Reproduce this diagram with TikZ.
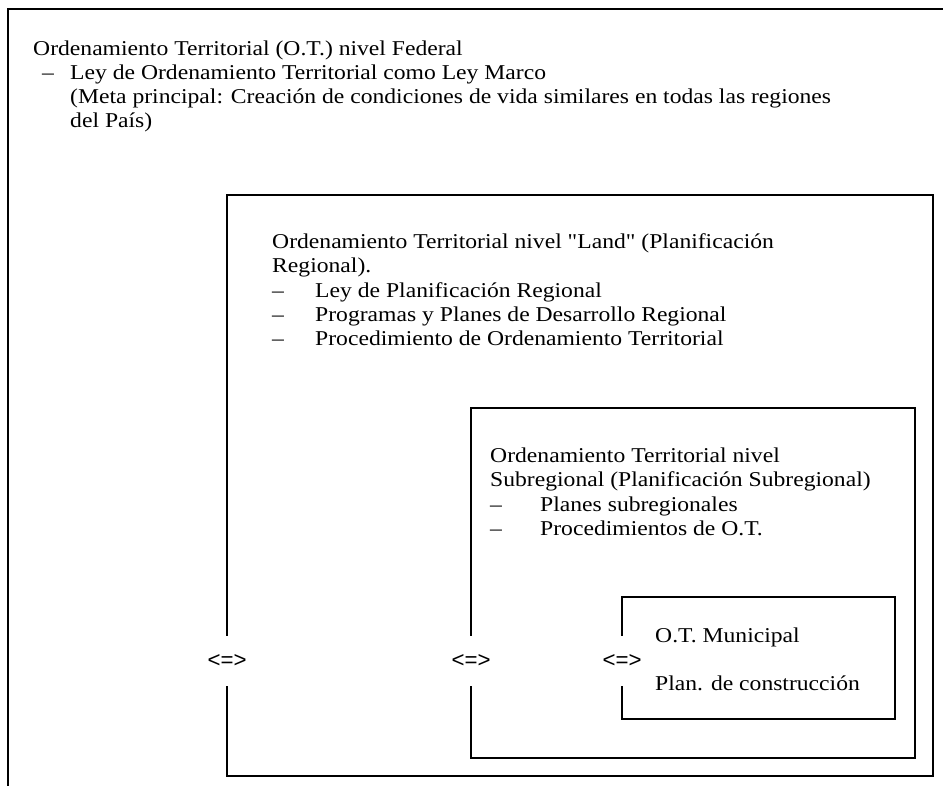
\documentclass[tikz,border=0pt]{standalone}
\usepackage{fontspec}
\setmainfont{Liberation Serif}[Ligatures=TeXOff, FakeStretch=1.12]
\newfontfamily\eqfont{Liberation Sans}
\begin{document}
\begin{tikzpicture}[x=0.03cm, y=-0.03cm,
    txt/.style={anchor=base west, inner sep=0pt,
        font=\fontsize{18}{21}\selectfont},
    eqmark/.style={inner sep=0pt, minimum height=1.5cm,
        font=\eqfont\fontsize{19}{21}\selectfont},
    frame/.style={line width=1.5pt}
]

    \useasboundingbox (0,0) rectangle (943,786);

    % nivel Federal
    \coordinate (fedNW) at (8,9);
    \draw[frame] (8,800) -- (fedNW) -- (960,9);
    \node[txt] (fed1) at (33,56) {Ordenamiento Territorial (O.T.) nivel Federal};
    \node[txt] (fedd) at (42,80) {–};
    \node[txt] (fed2) at (70,80) {Ley de Ordenamiento Territorial como Ley Marco};
    \node[txt] (fed3) at (70,104) {(Meta principal: Creación de condiciones de vida similares en todas las regiones};
    \node[txt] (fed4) at (70,128) {del País)};

    % nivel Land
    \node[eqmark] (eqLand) at (227,661) {<=>};
    \coordinate (landNE) at (933,195);
    \coordinate (landSE) at (933,776);
    \draw[frame] (eqLand.north) -- (227,195) -- (landNE) -- (landSE)
        -- (227,776) -- (eqLand.south);
    \node[txt] (land1) at (272,248) {Ordenamiento Territorial nivel "Land" (Planificación};
    \node[txt] (land2) at (272,272) {Regional).};
    \node[txt] (landd1) at (272,297) {–};
    \node[txt] (land3) at (315,297) {Ley de Planificación Regional};
    \node[txt] (landd2) at (272,321) {–};
    \node[txt] (land4) at (315,321) {Programas y Planes de Desarrollo Regional};
    \node[txt] (landd3) at (272,345) {–};
    \node[txt] (land5) at (315,345) {Procedimiento de Ordenamiento Territorial};

    % nivel Subregional
    \node[eqmark] (eqSub) at (471,661) {<=>};
    \coordinate (subNE) at (915,408);
    \coordinate (subSE) at (915,758);
    \draw[frame] (eqSub.north) -- (471,408) -- (subNE) -- (subSE)
        -- (471,758) -- (eqSub.south);
    \node[txt] (sub1) at (490,462) {Ordenamiento Territorial nivel};
    \node[txt] (sub2) at (490,486) {Subregional (Planificación Subregional)};
    \node[txt] (subd1) at (490,511) {–};
    \node[txt] (sub3) at (540,511) {Planes subregionales};
    \node[txt] (subd2) at (490,535) {–};
    \node[txt] (sub4) at (540,535) {Procedimientos de O.T.};

    % nivel Municipal
    \node[eqmark] (eqMun) at (622,661) {<=>};
    \coordinate (munNE) at (895,597);
    \coordinate (munSE) at (895,719);
    \draw[frame] (eqMun.north) -- (622,597) -- (munNE) -- (munSE)
        -- (622,719) -- (eqMun.south);
    \node[txt] (mun1) at (655,642) {O.T. Municipal};
    \node[txt] (mun2) at (655,690) {Plan. de construcción};

\end{tikzpicture}
\end{document}
